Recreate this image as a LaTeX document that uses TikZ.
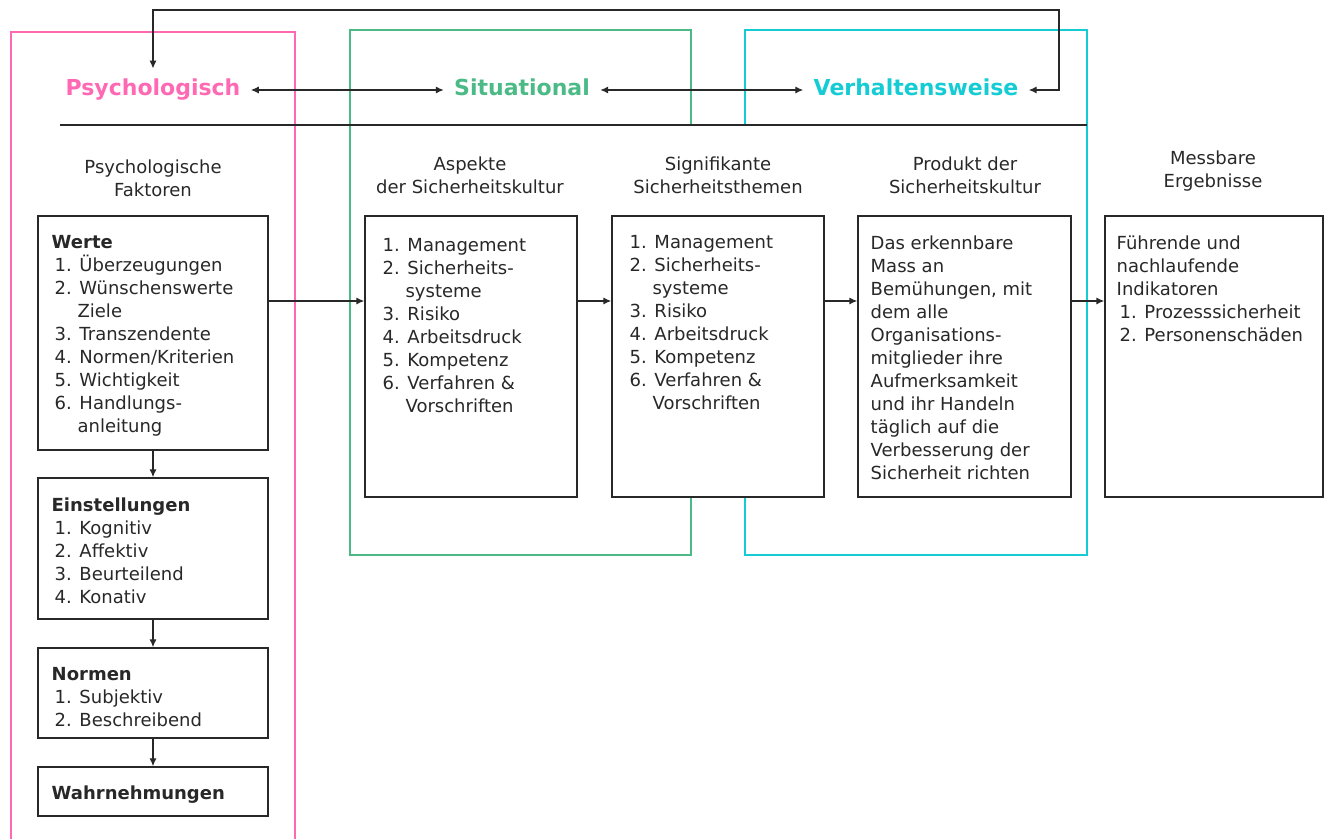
\documentclass[tikz,border=0pt]{standalone}
\usepackage{fontspec}
\setmainfont{DejaVu Sans}
\usetikzlibrary{arrows.meta}
\usetikzlibrary{positioning,fit}
\definecolor{psypink}{RGB}{255,105,180}
\definecolor{sitgreen}{RGB}{76,186,134}
\definecolor{behcyan}{RGB}{22,204,212}
\definecolor{ink}{RGB}{40,40,40}
\newcommand{\hangin}{\phantom{0.\ }}

\begin{document}
\begin{tikzpicture}[x=0.5pt,y=-0.5pt,
    box/.style={draw=ink,fill=white,line width=0.7pt,inner sep=0pt},
    txt/.style={font=\fontsize{9}{11.5}\selectfont,align=left,inner sep=0pt,text=ink},
    head/.style={font=\fontsize{9}{11.5}\selectfont,align=center,inner sep=0pt,text=ink},
    title/.style={font=\fontsize{11}{13}\selectfont\bfseries,inner sep=5pt,text height=8.5pt,text depth=2.5pt},
    frame/.style={line width=1.4pt},
    arr/.style={-{Latex[length=4pt,width=3.6pt]},line width=0.7pt,draw=ink},
    arrboth/.style={{Latex[length=4pt,width=3.6pt]}-{Latex[length=4pt,width=3.6pt]},line width=0.7pt,draw=ink}]
  \useasboundingbox (0,0) rectangle (1330,839);
  % coloured frames
  \draw[psypink,frame] (11,845) |- (295,32) -- (295,845);
  \draw[sitgreen,frame] (350,30) rectangle (691,555);
  \draw[behcyan,frame] (745,30) rectangle (1087,555);
  % the middle column hides the inner frame edges
  \fill[white] (612,126) rectangle (824,497);
  \draw[ink,line width=0.7pt] (60,125) -- (1087,125);
  % titles
  \node[title,text=psypink] (psy) at (153,90) {Psychologisch};
  \node[title,text=sitgreen] (sit) at (522,90) {Situational};
  \node[title,text=behcyan] (beh) at (916,90) {Verhaltensweise};
  \coordinate (turn) at (1059,10);
  \draw[arrboth] (psy) -- (sit);
  \draw[arrboth] (sit) -- (beh);
  \draw[arrboth] (psy.north) |- (turn) |- (beh.east);
  % column heads
  \node[head] (psyhead) at (153,178) {Psychologische\\Faktoren};
  \node[head] (asphead) at (470,175) {Aspekte\\der Sicherheitskultur};
  \node[head] (sighead) at (718,175) {Signifikante\\Sicherheitsthemen};
  \node[head] (prodhead) at (965,175) {Produkt der\\Sicherheitskultur};
  \node[head] (meshead) at (1213,171) {Messbare\\Ergebnisse};
  % left column
  \node[box,fit={(38,216) (268,450)}] (werte) {};
  \node[txt,below right=10pt and 7pt of werte.north west] (wertetxt) {\textbf{Werte}\\
    \kern1.5pt 1. Überzeugungen\\
    \kern1.5pt 2. Wünschenswerte\\
    \kern1.5pt \hangin Ziele\\
    \kern1.5pt 3. Transzendente\\
    \kern1.5pt 4. Normen/Kriterien\\
    \kern1.5pt 5. Wichtigkeit\\
    \kern1.5pt 6. Handlungs-\\
    \kern1.5pt \hangin anleitung};
  \node[box,fit={(38,478) (268,619)}] (einst) {};
  \node[txt,below right=10pt and 7pt of einst.north west] (einsttxt) {\textbf{Einstellungen}\\
    \kern1.5pt 1. Kognitiv\\
    \kern1.5pt 2. Affektiv\\
    \kern1.5pt 3. Beurteilend\\
    \kern1.5pt 4. Konativ};
  \node[box,fit={(38,648) (268,738)}] (normen) {};
  \node[txt,below right=10pt and 7pt of normen.north west] (normentxt) {\textbf{Normen}\\
    \kern1.5pt 1. Subjektiv\\
    \kern1.5pt 2. Beschreibend};
  \node[box,fit={(38,767) (268,816)}] (wahr) {};
  \node[txt,below right=9.5pt and 7pt of wahr.north west] (wahrtxt) {\textbf{Wahrnehmungen}};
  \draw[arr] (werte) -- (einst);
  \draw[arr] (einst) -- (normen);
  \draw[arr] (normen) -- (wahr);
  % flow boxes
  \node[box,fit={(365,216) (577,497)}] (asp) {};
  \node[txt,below right=11.5pt and 9pt of asp.north west] (asptxt) {1. Management\\
    2. Sicherheits-\\
    \hangin systeme\\
    3. Risiko\\
    4. Arbeitsdruck\\
    5. Kompetenz\\
    6. Verfahren \&\\
    \hangin Vorschriften};
  \node[box,fit={(612,216) (824,497)}] (sig) {};
  \node[txt,below right=10pt and 9pt of sig.north west] (sigtxt) {1. Management\\
    2. Sicherheits-\\
    \hangin systeme\\
    3. Risiko\\
    4. Arbeitsdruck\\
    5. Kompetenz\\
    6. Verfahren \&\\
    \hangin Vorschriften};
  \node[box,fit={(858,216) (1071,497)}] (prod) {};
  \node[txt,below right=10pt and 6.5pt of prod.north west] (prodtxt) {Das erkennbare\\
    Mass an\\
    Bemühungen, mit\\
    dem alle\\
    Organisations-\\
    mitglieder ihre\\
    Aufmerksamkeit\\
    und ihr Handeln\\
    täglich auf die\\
    Verbesserung der\\
    Sicherheit richten};
  \node[box,fit={(1105,216) (1323,497)}] (mess) {};
  \node[txt,below right=10pt and 6pt of mess.north west] (messtxt) {Führende und\\
    nachlaufende\\
    Indikatoren\\
    \kern1.5pt 1. Prozesssicherheit\\
    \kern1.5pt 2. Personenschäden};
  \coordinate (flow) at (0,301);
  \draw[arr] (werte.east |- flow) -- (asp.west |- flow);
  \draw[arr] (asp.east |- flow) -- (sig.west |- flow);
  \draw[arr] (sig.east |- flow) -- (prod.west |- flow);
  \draw[arr] (prod.east |- flow) -- (mess.west |- flow);
\end{tikzpicture}
\end{document}
